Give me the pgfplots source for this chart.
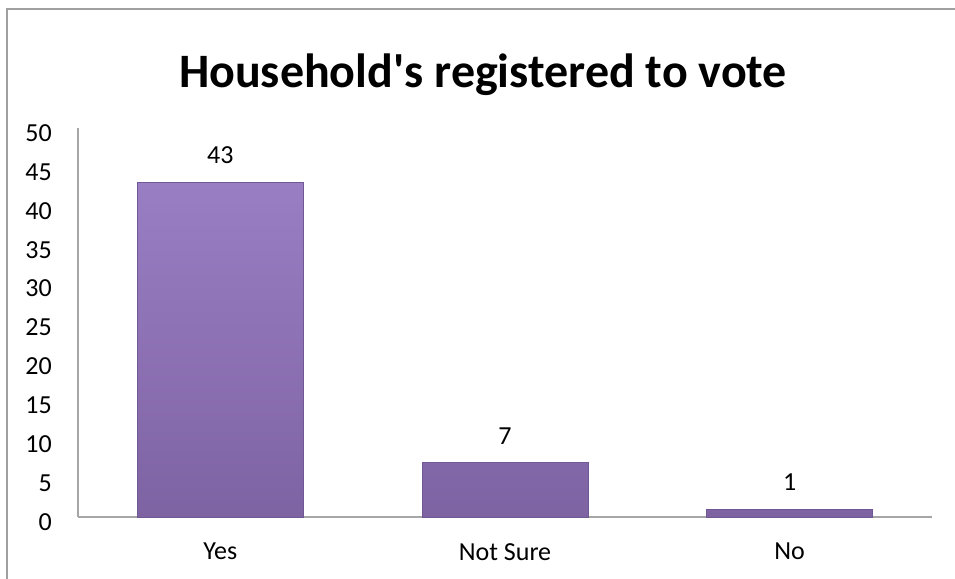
\documentclass[border=0pt]{standalone}
\usepackage{fontspec}
\setmainfont{Carlito}
\usepackage{pgfplots}
\pgfplotsset{compat=1.18}
\definecolor{frame}{HTML}{A0A0A0}
\definecolor{axisgray}{HTML}{A6A6A6}
\definecolor{barTop}{HTML}{9A7EC4}
\definecolor{barBot}{HTML}{7E63A3}
\definecolor{barEdge}{HTML}{6F5893}
\begin{document}
\begin{tikzpicture}
\useasboundingbox (0pt,0pt) rectangle (955pt,578pt);
\fill[white] (0pt,0pt) rectangle (955pt,578pt);
\draw[color=frame, line width=1.5pt] (7pt,-20pt) -- (7pt,569pt) -- (975pt,569pt);
\node[font=\fontsize{48}{58}\selectfont\bfseries, inner sep=0pt] at (483pt,503pt) {Household\textquotesingle s registered to vote};
\begin{axis}[
  at={(78pt,61pt)}, anchor=south west,
  scale only axis, width=854pt, height=389pt,
  xmin=-0.5, xmax=2.5, ymin=0, ymax=50,
  ytick={0,5,...,50},
  xtick={0,1,2}, xticklabels={Yes,Not Sure,No},
  axis x line*=bottom, axis y line*=left,
  axis line style={-, color=axisgray, line width=1.5pt},
  major tick length=0pt, tick style={draw=none},
  /pgf/number format/assume math mode=true,
  tick label style={font=\fontsize{26}{31}\selectfont, text=black},
  yticklabel style={anchor=east, inner sep=0pt, xshift=-26pt, yshift=-5pt},
  xticklabel style={anchor=north, inner sep=0pt, yshift=-26pt},
  ybar, bar width=166pt,
  nodes near coords,
  nodes near coords style={font=\fontsize{26}{31}\selectfont, anchor=south, inner sep=0pt, yshift=18pt, text=black},
  clip=false,
]
\addplot[draw=barEdge, line width=0.8pt, top color=barTop, bottom color=barBot] coordinates {(0,43) (1,7) (2,1)};
\end{axis}
\end{tikzpicture}
\end{document}
